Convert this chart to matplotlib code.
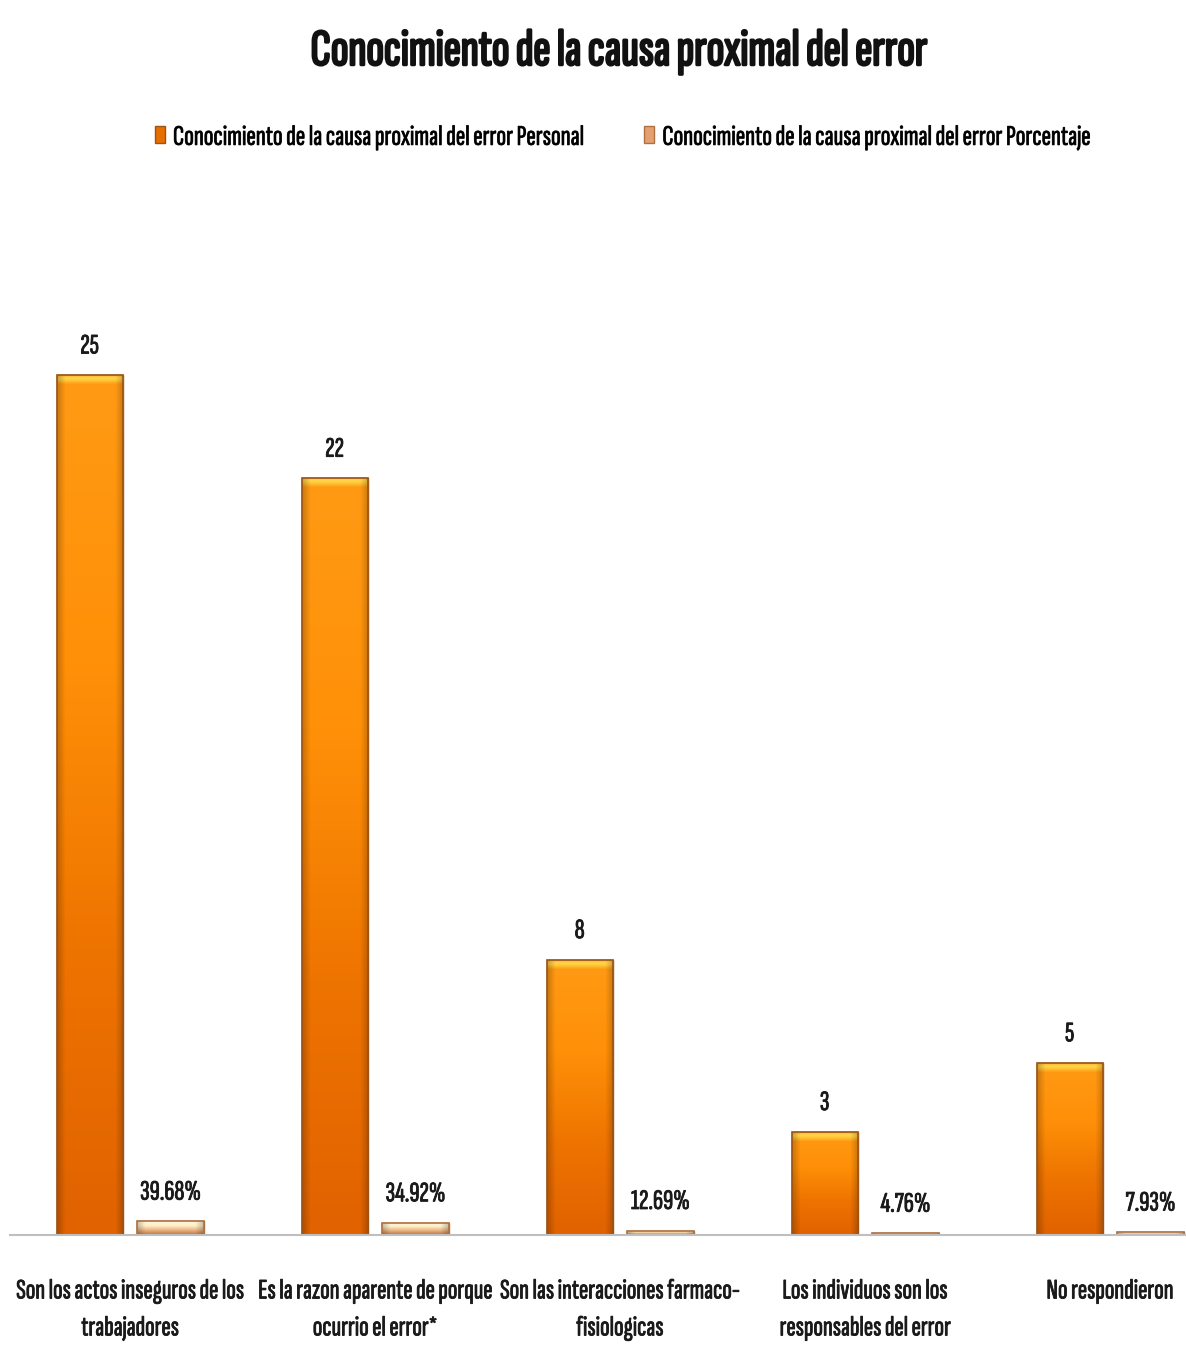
import numpy as np
import matplotlib
matplotlib.use("Agg")
import matplotlib.pyplot as plt
import matplotlib.patheffects as pe
from matplotlib.colors import LinearSegmentedColormap
from matplotlib.patches import Patch

# Survey results
categorias = [
    "Son los actos inseguros de los\ntrabajadores",
    "Es la razon aparente de porque\nocurrio el error*",
    "Son las interacciones farmaco-\nfisiologicas",
    "Los individuos son los\nresponsables del error",
    "No respondieron",
]
personal = [25, 22, 8, 3, 5]
porcentaje = [0.3968, 0.3492, 0.1269, 0.0476, 0.0793]
etiquetas_pct = ["39.68%", "34.92%", "12.69%", "4.76%", "7.93%"]

serie_personal = "Conocimiento de la causa proximal del error Personal"
serie_pct = "Conocimiento de la causa proximal del error Porcentaje"
titulo = "Conocimiento de la causa proximal del error"

FONT = ["Sofia Sans Extra Condensed", "Fira Sans Extra Condensed", "DejaVu Sans"]
plt.rcParams["font.family"] = FONT
TXT = "#1a1a1a"
thin = [pe.withStroke(linewidth=0.6, foreground=TXT)]
heavy = [pe.withStroke(linewidth=1.8, foreground="#111111")]

DPI = 100
fig = plt.figure(figsize=(11.86, 13.47), dpi=DPI)
renderer = fig.canvas.get_renderer()


def fit_size(s, width_px, **kw):
    """Font size (pt) at which string s spans width_px pixels."""
    t = fig.text(0, 0, s, fontsize=20, **kw)
    w = t.get_window_extent(renderer).width
    t.remove()
    return 20 * width_px / w


fs_title = fit_size(titulo, 615, fontweight="bold")
fs_legend = fit_size(serie_personal, 410)
fs_cat = fit_size(categorias[0].split("\n")[0], 227)
fs_val = fit_size(etiquetas_pct[0], 61)

ax = fig.add_axes([10 / 1186, 1 - 1235 / 1347, 1 - 10 / 1186, 963 / 1347])

x = np.arange(len(categorias))
w = 0.27
off = 0.165

bars1 = ax.bar(x - off, personal, width=w, color="#F07A00",
               edgecolor="#9A5418", linewidth=1.0, zorder=2)
bars2 = ax.bar(x + off, porcentaje, width=w, color="#F0C090",
               edgecolor="#B07040", linewidth=1.0, zorder=2)

ax.set_xlim(-0.49, 4.31)
ax.set_ylim(0, 28)
units_per_px = 28 / 963

# vertical shading, top bevel and darker sides inside each bar
cmap_orange = LinearSegmentedColormap.from_list(
    "orange", ["#E06200", "#EE7400", "#FF9008", "#FF9A14"])
cmap_pct = LinearSegmentedColormap.from_list(
    "pct", ["#B8703C", "#E8B080", "#FFF0C8", "#FFF6DC"])
cmap_bevel = LinearSegmentedColormap.from_list(
    "bevel", ["#FF9A14", "#FFC030", "#FFD850", "#FFB020"])
grad = np.linspace(0, 1, 256).reshape(-1, 1)
u = np.linspace(-1, 1, 128)
sides = np.zeros((1, 128, 4))
sides[0, :, 3] = 0.22 * np.clip((np.abs(u) - 0.75) / 0.25, 0, 1)


def shade(bars, cmap, bevel=True):
    for b in bars:
        x0, y0 = b.get_x(), b.get_y()
        x1, y1 = x0 + b.get_width(), y0 + b.get_height()
        im = ax.imshow(grad, cmap=cmap, origin="lower", aspect="auto",
                       extent=(x0, x1, y0, y1), zorder=2.1,
                       interpolation="bicubic")
        im.set_clip_path(b)
        if bevel:
            h = min(9 * units_per_px, b.get_height())
            tb = ax.imshow(grad, cmap=cmap_bevel, origin="lower", aspect="auto",
                           extent=(x0, x1, y1 - h, y1), zorder=2.15,
                           interpolation="bicubic")
            tb.set_clip_path(b)
        sd = ax.imshow(sides, aspect="auto", extent=(x0, x1, y0, y1),
                       zorder=2.18, interpolation="bicubic")
        sd.set_clip_path(b)
        ax.add_patch(plt.Rectangle((x0, y0), b.get_width(), b.get_height(),
                                   fill=False, edgecolor=b.get_edgecolor(),
                                   linewidth=1.2, zorder=2.2))


shade(bars1, cmap_orange)
shade(bars2, cmap_pct, bevel=False)
ax.set_xlim(-0.49, 4.31)
ax.set_ylim(0, 28)

for b, v in zip(bars1, personal):
    ax.annotate(str(v), (b.get_x() + b.get_width() / 2, b.get_height()),
                xytext=(0, 12), textcoords="offset points", path_effects=thin,
                ha="center", va="bottom", fontsize=fs_val, color=TXT)
for b, t in zip(bars2, etiquetas_pct):
    ax.annotate(t, (b.get_x() + b.get_width() / 2, b.get_height()),
                xytext=(0, 12), textcoords="offset points", path_effects=thin,
                ha="center", va="bottom", fontsize=fs_val, color=TXT)

for s in ["top", "left", "right"]:
    ax.spines[s].set_visible(False)
ax.spines["bottom"].set_color("#BFBFBF")
ax.spines["bottom"].set_linewidth(1.5)
ax.set_yticks([])
ax.set_xticks(x)
cat_px = fs_cat * DPI / 72
labels = ax.set_xticklabels(categorias, fontsize=fs_cat,
                            linespacing=57 / (1.2 * cat_px), color=TXT)
for lb in labels:
    lb.set_path_effects(thin)
ax.tick_params(axis="x", length=0, pad=32)

fig.text(0.523, 1 - 52 / 1347, titulo, ha="center", va="center",
         fontsize=fs_title, fontweight="bold", color="#111111",
         path_effects=heavy)

leg_px = fs_legend * DPI / 72
handles = [Patch(facecolor="#E86E00", edgecolor="#9A5418"),
           Patch(facecolor="#E4A070", edgecolor="#B07040")]
leg = fig.legend(handles, [serie_personal, serie_pct], loc="center left",
                 bbox_to_anchor=(155 / 1186, 1 - 138 / 1347), ncol=2,
                 frameon=False, fontsize=fs_legend, borderpad=0,
                 borderaxespad=0, handlelength=10 / leg_px,
                 handleheight=16 / leg_px, handletextpad=8 / leg_px,
                 columnspacing=60 / leg_px)
for t in leg.get_texts():
    t.set_path_effects(thin)

fig.savefig("out.png", dpi=DPI)
